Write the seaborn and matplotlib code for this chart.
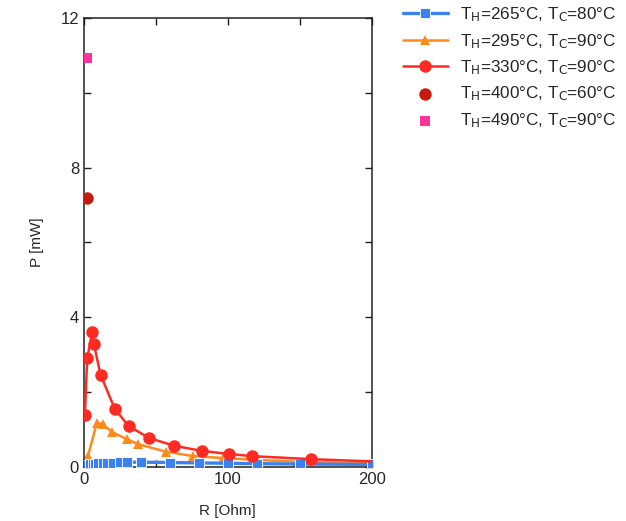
import numpy as np
import pandas as pd
import matplotlib
matplotlib.use("Agg")
import matplotlib.pyplot as plt
import seaborn as sns
from matplotlib.ticker import MultipleLocator

# T_H=265, T_C=80
r_265 = [0.5, 2, 4, 6, 8, 10, 13, 16, 20, 25, 30, 40, 60, 80, 100, 120, 150, 200]
p_265 = [0.04, 0.06, 0.07, 0.08, 0.09, 0.10, 0.11, 0.12, 0.12, 0.13, 0.13, 0.13, 0.12, 0.11, 0.10, 0.09, 0.08, 0.07]
# T_H=295, T_C=90
r_295 = [0.7, 2.8, 9, 13, 19.7, 29.6, 37.7, 57, 76, 96.5, 120, 148, 200]
p_295 = [0.08, 0.29, 1.18, 1.15, 0.93, 0.75, 0.61, 0.41, 0.29, 0.24, 0.19, 0.14, 0.10]
# T_H=330, T_C=90
r_330 = [0.7, 2.3, 5.8, 7, 11.6, 21.5, 31, 45, 62.5, 82, 100.7, 117, 158, 200]
p_330 = [1.39, 2.9, 3.6, 3.28, 2.46, 1.55, 1.1, 0.78, 0.57, 0.43, 0.35, 0.29, 0.21, 0.15]
# single points
r_400 = [2.5]
p_400 = [7.2]
r_490 = [2.5]
p_490 = [10.93]

labels = [
    r'T$_\mathrm{H}$=265°C, T$_\mathrm{C}$=80°C',
    r'T$_\mathrm{H}$=295°C, T$_\mathrm{C}$=90°C',
    r'T$_\mathrm{H}$=330°C, T$_\mathrm{C}$=90°C',
    r'T$_\mathrm{H}$=400°C, T$_\mathrm{C}$=60°C',
    r'T$_\mathrm{H}$=490°C, T$_\mathrm{C}$=90°C',
]

sns.set_style("ticks")
plt.rcParams['font.family'] = ['Liberation Sans', 'DejaVu Sans']
plt.rcParams['mathtext.default'] = 'regular'
plt.rcParams['font.size'] = 11

fig = plt.figure(figsize=(6.26, 5.21), dpi=100)
ax = fig.add_axes([0.134, 0.1036, 0.460, 0.862])

sns.lineplot(x=r_265, y=p_265, ax=ax, color='#3b82f0', marker='s', markersize=7,
             markeredgecolor='white', markeredgewidth=0.6, linewidth=2.4, label=labels[0], zorder=3)
sns.lineplot(x=r_295, y=p_295, ax=ax, color='#ff8a1c', marker='^', markersize=7.5,
             markeredgewidth=0, linewidth=1.8, label=labels[1], zorder=2,
             markevery=list(range(len(r_295) - 1)))
sns.lineplot(x=r_330, y=p_330, ax=ax, color='#ff2a22', marker='o', markersize=9,
             markeredgewidth=0, linewidth=1.8, label=labels[2], zorder=4,
             markevery=list(range(len(r_330) - 1)))
sns.scatterplot(x=r_400, y=p_400, ax=ax, color='#c8190f', marker='o', s=80,
                linewidth=0, label=labels[3], zorder=5)
sns.scatterplot(x=r_490, y=p_490, ax=ax, color='#ff3399', marker='s', s=60,
                linewidth=0, label=labels[4], zorder=5)

ax.set_xlim(0, 200)
ax.set_ylim(0, 12)
ax.xaxis.set_major_locator(MultipleLocator(100))
ax.xaxis.set_minor_locator(MultipleLocator(50))
ax.yaxis.set_major_locator(MultipleLocator(4))
ax.yaxis.set_minor_locator(MultipleLocator(2))
ax.tick_params(which='both', direction='in', top=True, right=True, width=1, color='#222222')
ax.tick_params(which='major', length=5, labelsize=12)
ax.tick_params(which='minor', length=5)
for s in ax.spines.values():
    s.set_linewidth(1.1)
    s.set_color('#222222')

ax.set_xlabel('R [Ohm]', fontsize=11, labelpad=12)
ax.set_ylabel('P [mW]', fontsize=11, labelpad=12)

leg = ax.legend(loc='upper left', bbox_to_anchor=(1.085, 1.043), frameon=False,
                fontsize=12.3, handlelength=2.6, labelspacing=0.45, handletextpad=0.75,
                borderaxespad=0)

fig.savefig('out.png', dpi=100)
